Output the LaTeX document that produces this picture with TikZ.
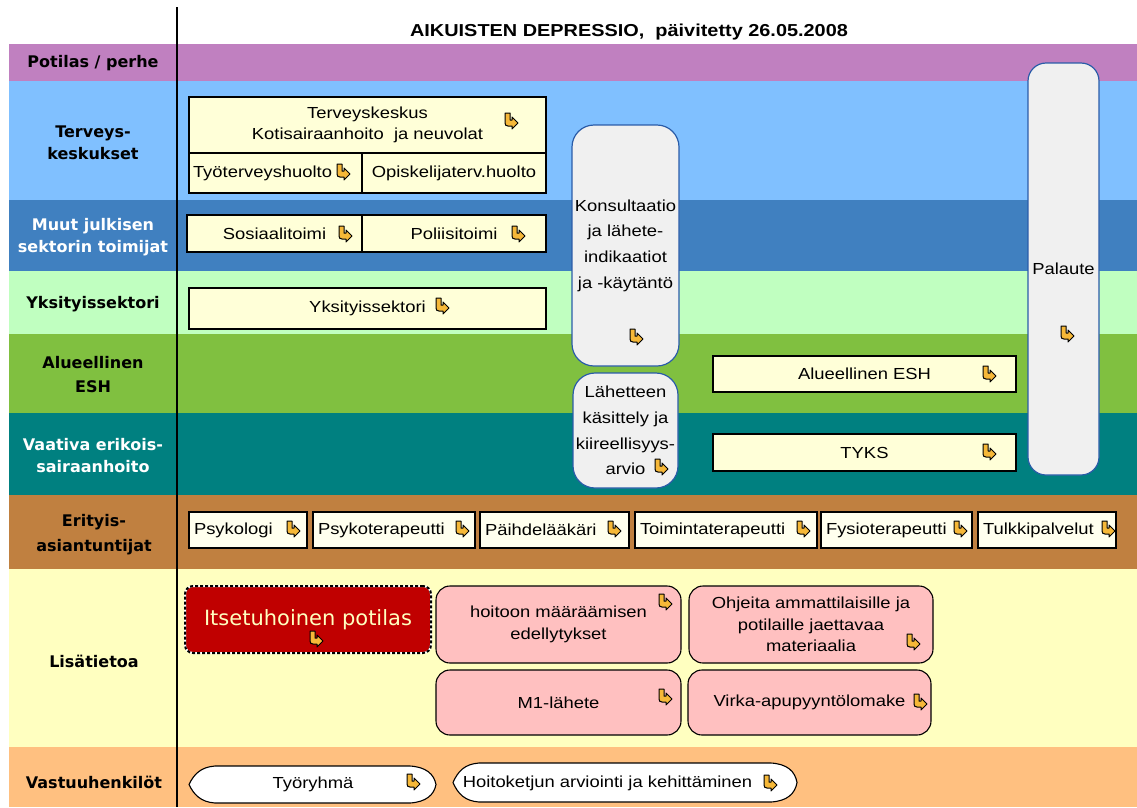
\documentclass[tikz,border=0pt]{standalone}
\usepackage{fontspec}
\setmainfont{Liberation Sans}
\newfontfamily\bx[FakeStretch=1.15]{Liberation Sans}
\newfontfamily\lab{DejaVu Sans}
\usetikzlibrary{calc}
\definecolor{cPur}{HTML}{C080C0}
\definecolor{cLBlue}{HTML}{80C0FF}
\definecolor{cMBlue}{HTML}{4080C0}
\definecolor{cLGreen}{HTML}{C0FFC0}
\definecolor{cGreen}{HTML}{80C040}
\definecolor{cTeal}{HTML}{008080}
\definecolor{cBrown}{HTML}{C08040}
\definecolor{cLYel}{HTML}{FFFFC0}
\definecolor{cOra}{HTML}{FFC080}
\definecolor{yfill}{HTML}{FFFFD8}
\definecolor{efill}{HTML}{FFFFEE}
\definecolor{gfill}{HTML}{F0F0F0}
\definecolor{gborder}{HTML}{2A5CA8}
\definecolor{pfill}{HTML}{FFC0C0}
\definecolor{itred}{HTML}{C00000}
\definecolor{ittext}{HTML}{FFFFC0}
\definecolor{hkfill}{HTML}{F6B838}
\newcommand\bxf{\bx\fontsize{16}{21}\selectfont}
\tikzset{
  hk/.pic={\filldraw[fill=hkfill,draw=black,line width=1pt,line join=round]
    (-6,-8) -- (-1,-8) -- (-1,-1) -- (1,-1) -- (1,-4) -- (7,2) -- (1,8) -- (1,5) -- (-3,5)
    .. controls (-5,5) and (-6,4) .. (-6,2) -- cycle;},
  pics/cigar/.style 2 args={code={
    \pgfmathsetmacro\ca{#1/2}\pgfmathsetmacro\cb{#2/2}
    \filldraw[fill=white,draw=black,line width=1.1pt]
      (-\ca,0) .. controls ({-\ca+5},{-\cb+8}) and ({-\ca+12},{-\cb+1}) .. ({-\ca+26},-\cb)
      -- ({\ca-26},-\cb) .. controls ({\ca-10},{-\cb+1}) and ({\ca-2},{-\cb+8}) .. (\ca,0)
      .. controls ({\ca-2},{\cb-8}) and ({\ca-10},{\cb-1}) .. ({\ca-26},\cb)
      -- ({-\ca+26},\cb) .. controls ({-\ca+12},{\cb-1}) and ({-\ca+5},{\cb-8}) .. cycle;}},
  lbl/.style={font=\lab\bfseries\fontsize{16}{22}\selectfont,align=center,inner sep=0pt},
  ybox/.style={draw=black,line width=1.2pt,fill=yfill,font=\bxf,inner sep=0pt,align=center},
  ebox/.style={draw=black,line width=1.2pt,fill=efill,font=\bxf,inner xsep=5pt,inner ysep=0pt,align=left,minimum height=36pt},
  gbox/.style={draw=gborder,line width=1.2pt,fill=gfill,rounded corners=22pt,font=\bx\fontsize{16}{25.7}\selectfont,inner sep=0pt,align=center},
  pbox/.style={draw=black,line width=1.1pt,fill=pfill,rounded corners=14pt,font=\bx\fontsize{16}{21.5}\selectfont,inner sep=0pt,align=center},
  vtext/.style={font=\bxf,inner sep=0pt}
}
\begin{document}
\begin{tikzpicture}[x=1pt,y=-1pt]
\useasboundingbox (0,0) rectangle (1137,807);
\fill[white] (0,0) rectangle (1137,807);
% bands
\fill[cPur]    (9,44)  rectangle (1137,81);
\fill[cLBlue]  (9,81)  rectangle (1137,200);
\fill[cMBlue]  (9,200) rectangle (1137,271);
\fill[cLGreen] (9,271) rectangle (1137,334);
\fill[cGreen]  (9,334) rectangle (1137,413);
\fill[cTeal]   (9,413) rectangle (1137,495);
\fill[cBrown]  (9,495) rectangle (1137,569);
\fill[cLYel]   (9,569) rectangle (1137,747);
\fill[cOra]    (9,747) rectangle (1137,807);
\draw[line width=1.2pt] (177,7) -- (177,807);
% title
\node[font=\bx\bfseries\fontsize{17.3}{20}\selectfont] (title) at (629,32) {AIKUISTEN DEPRESSIO,\ \ päivitetty 26.05.2008};
% row labels
\node[lbl] (lpot) at (93,63) {Potilas / perhe};
\node[lbl] (lter) at (93,142.5) {Terveys-\\keskukset};
\node[lbl,white] (lmuu) at (93,237) {Muut julkisen\\sektorin toimijat};
\node[lbl] (lyks) at (93,304) {Yksityissektori};
\node[lbl,font=\lab\bfseries\fontsize{16}{24}\selectfont] (lalu) at (93,375) {Alueellinen\\ESH};
\node[lbl,white] (lvaa) at (93,456) {Vaativa erikois-\\sairaanhoito};
\node[lbl,font=\lab\bfseries\fontsize{16}{25}\selectfont] (leri) at (94,534.5) {Erityis-\\asiantuntijat};
\node[lbl] (llis) at (94,661) {Lisätietoa};
\node[lbl] (lvas) at (94,782) {Vastuuhenkilöt};
% Terveyskeskukset
\node[ybox,minimum width=357pt,minimum height=56pt] (tk) at (367.5,125) {Terveyskeskus\\Kotisairaanhoito\ \ ja neuvolat};
\node[ybox,inner xsep=4pt,text width=165pt,align=left,minimum height=40pt] (tth) at (275.5,173) {Työterveyshuolto};
\node[ybox,minimum width=184pt,minimum height=40pt] (opi) at (454,173) {Opiskelijaterv.huolto};
\pic at (511,121) {hk};
\pic at (343,172) {hk};
% Muut julkisen
\node[ybox,minimum width=175pt,minimum height=37pt] (sos) at (274.5,233.5) {Sosiaalitoimi};
\node[ybox,minimum width=184pt,minimum height=37pt] (pol) at (454,233.5) {Poliisitoimi};
\pic at (345,234) {hk};
\pic at (518,234) {hk};
% Yksityissektori
\node[ybox,minimum width=357pt,minimum height=41pt] (yks) at (367.5,308.5) {Yksityissektori};
\pic at (442,306) {hk};
% grey rounded boxes
\node[gbox,minimum width=107pt,minimum height=241pt] (kons) at (625.5,245.5) {Konsultaatio\\ja lähete-\\indikaatiot\\ja -käytäntö};
\pic at (636,337) {hk};
\node[gbox,minimum width=105pt,minimum height=115pt] (lah) at (625.5,430.5) {Lähetteen\\käsittely ja\\kiireellisyys-\\arvio};
\pic at (661,467) {hk};
\node[gbox,rounded corners=18pt,minimum width=71pt,minimum height=412pt] (pal) at (1063.5,269) {Palaute};
\pic at (1067,334) {hk};
% ESH and TYKS
\node[ybox,minimum width=303pt,minimum height=36pt] (esh) at (864.5,374) {Alueellinen ESH};
\pic at (989,374) {hk};
\node[ybox,minimum width=303pt,minimum height=37pt] (tyks) at (864.5,452.5) {TYKS};
\pic at (989,452) {hk};
% Erityisasiantuntijat
\node[ebox,text width=108pt] (psy) at (248,530) {Psykologi};
\node[ebox,text width=152pt] (psyt) at (394,530) {Psykoterapeutti};
\node[ebox,text width=139pt] (pai) at (554.5,530) {Päihdelääkäri};
\node[ebox,text width=172pt] (toi) at (726,530) {Toimintaterapeutti};
\node[ebox,text width=141pt] (fys) at (896.5,530) {Fysioterapeutti};
\node[ebox,text width=128pt] (tul) at (1047,530) {Tulkkipalvelut};
\pic at (293,529) {hk};
\pic at (462,529) {hk};
\pic at (614,529) {hk};
\pic at (803,529) {hk};
\pic at (960,529) {hk};
\pic at (1108,529) {hk};
% Lisätietoa
\node[fill=itred,draw=white,line width=2pt,rounded corners=8pt,minimum width=246pt,minimum height=67pt,
  postaction={draw=black,line width=2pt,dash pattern=on 3pt off 2pt},
  font=\lab\fontsize{21}{24}\selectfont,text=ittext,inner sep=0pt] (its) at (308,619.5) {\raisebox{1pt}{Itsetuhoinen potilas}};
\pic at (316,639) {hk};
\node[pbox,minimum width=245pt,minimum height=77pt] (hoi) at (558.5,624.5) {hoitoon määräämisen\\edellytykset};
\pic at (665,602) {hk};
\node[pbox,minimum width=244pt,minimum height=77pt] (ohj) at (811,624.5) {Ohjeita ammattilaisille ja\\potilaille jaettavaa\\materiaalia};
\pic at (913,642) {hk};
\node[pbox,minimum width=245pt,minimum height=65pt] (m1) at (558.5,702.5) {M1-lähete};
\pic at (665,697) {hk};
\node[pbox,minimum width=243pt,minimum height=65pt] (vir) at (809.5,702.5) {Virka-apupyyntölomake};
\pic at (920,702) {hk};
% Vastuuhenkilöt
\pic at (312.5,784.5) {cigar={247}{37}};
\node[vtext] (tyo) at (313,784) {Työryhmä};
\pic at (413,782) {hk};
\pic at (625,782.5) {cigar={344}{39}};
\node[vtext] (hke) at (607.5,783) {Hoitoketjun arviointi ja kehittäminen};
\pic at (770,783) {hk};
\end{tikzpicture}
\end{document}
